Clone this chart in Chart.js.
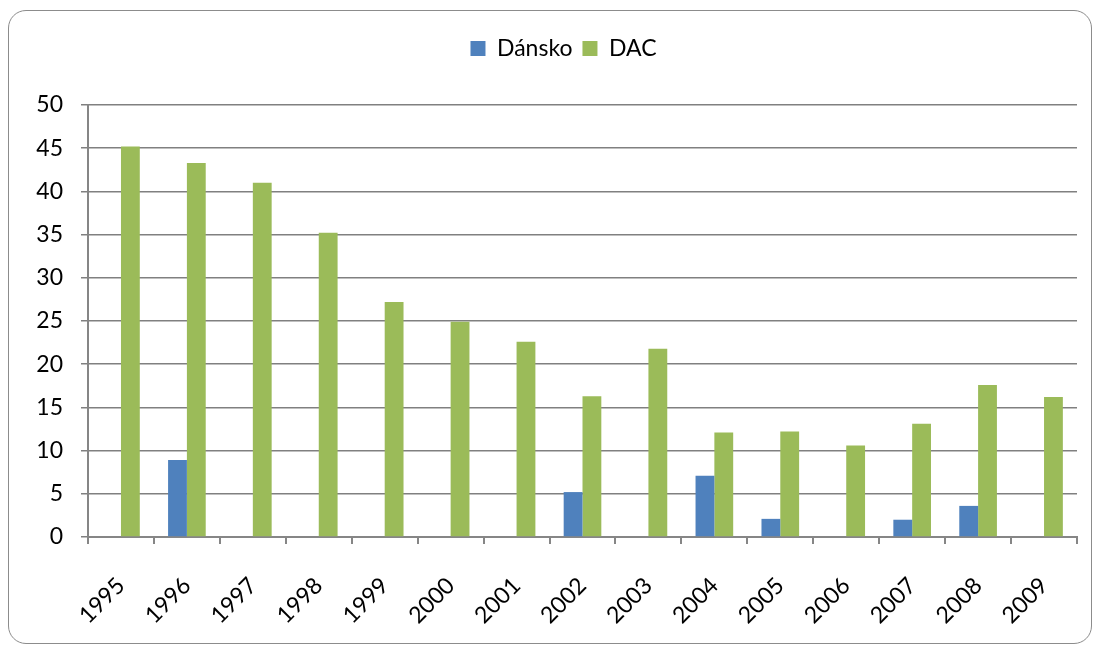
<!DOCTYPE html>
<html>
<head>
<meta charset="utf-8">
<script src="https://cdn.jsdelivr.net/npm/chart.js@4"></script>
<style>
  body { margin: 0; background: #fff; }
  #wrap { position: relative; width: 1096px; height: 647px; }
  #frame { position: absolute; left: 8px; top: 10px; width: 1084px; height: 634px;
           border: 1.5px solid #8c8c8c; border-radius: 18px; box-sizing: border-box; }
  canvas { position: absolute; left: 0; top: 0; }
</style>
</head>
<body>
<div id="wrap">
  <div id="frame"></div>
  <canvas id="chart" width="1096" height="647"></canvas>
</div>
<script>
const years = ['1995', '1996', '1997', '1998', '1999', '2000', '2001', '2002',
               '2003', '2004', '2005', '2006', '2007', '2008', '2009']
const dansko = [null, 8.9, null, null, null, null, null, 5.2, null, 7.1, 2.1, null, 2.0, 3.6, null]
const dac = [45.2, 43.3, 41.0, 35.2, 27.2, 24.9, 22.6, 16.3, 21.8, 12.1, 12.2, 10.6, 13.1, 17.6, 16.2]

const gridColor = '#868686'
const font = { family: 'Lato, "Open Sans", sans-serif', size: 23 }

// push the plot area down below the legend, and nudge the legend a bit right
const legendGap = {
  id: 'legendGap',
  beforeLayout(chart) {
    const legend = chart.legend
    if (!legend || legend._gapPatched) return
    const fit = legend.fit
    legend.fit = function () {
      fit.call(this)
      this.height += 36
    }
    const draw = legend.draw
    legend.draw = function () {
      const ctx = this.ctx
      ctx.save()
      ctx.translate(13, 1)
      draw.call(this)
      ctx.restore()
    }
    legend._gapPatched = true
  }
}

new Chart(document.getElementById('chart').getContext('2d'), {
  type: 'bar',
  data: {
    labels: years,
    datasets: [
      { label: 'Dánsko', data: dansko, backgroundColor: '#4F81BD' },
      { label: 'DAC', data: dac, backgroundColor: '#9BBB59' }
    ]
  },
  plugins: [legendGap],
  options: {
    responsive: false,
    animation: false,
    categoryPercentage: 0.571,
    barPercentage: 1.0,
    layout: { padding: { left: 24, right: 19, top: 26, bottom: 10 } },
    plugins: {
      legend: {
        position: 'top',
        labels: {
          color: '#000',
          font: font,
          boxWidth: 15,
          boxHeight: 15,
          padding: 10
        }
      },
      tooltip: { enabled: false }
    },
    scales: {
      x: {
        grid: {
          offset: true,
          drawOnChartArea: false,
          color: gridColor,
          lineWidth: 2,
          tickLength: 7
        },
        border: { color: gridColor, width: 2 },
        ticks: { color: '#000', font: font, minRotation: 45, maxRotation: 45, padding: 28 },
        afterFit: scale => { scale.height = 100 }
      },
      y: {
        min: 0,
        max: 50,
        ticks: { stepSize: 5, color: '#000', font: font, padding: 18 },
        grid: { color: '#808080', lineWidth: 1.5, tickLength: 7 },
        border: { color: gridColor, width: 2 },
        afterFit: scale => { scale.width = 64 }
      }
    }
  }
})
</script>
</body>
</html>
